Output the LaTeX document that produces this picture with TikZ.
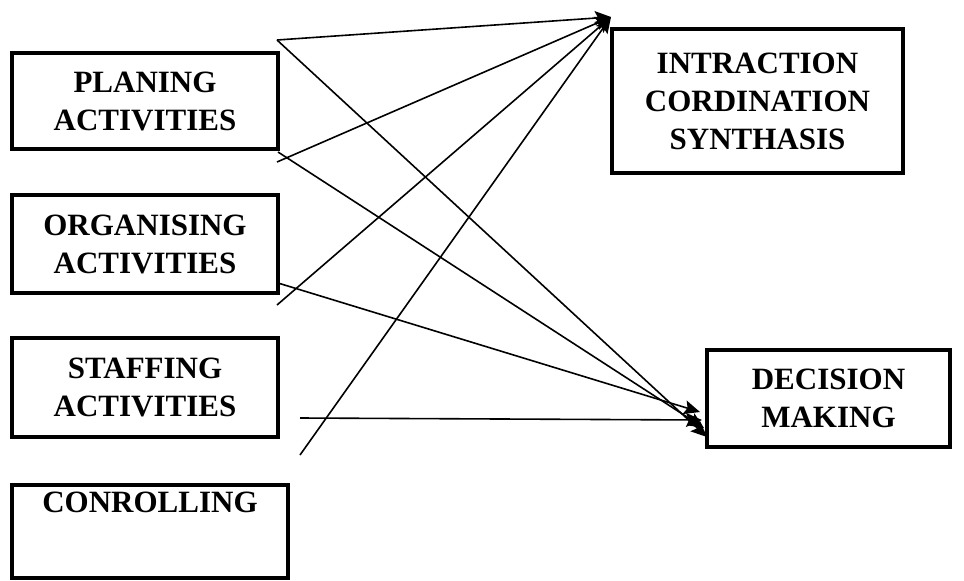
\documentclass[tikz,border=0pt]{standalone}
\usepackage{fontspec}
\setmainfont{Liberation Serif}
\usetikzlibrary{arrows.meta,calc}
\begin{document}
\begin{tikzpicture}[x=1pt,y=-1pt,
  box/.style={draw,line width=3.5pt,align=center,inner sep=0pt,
    font=\bfseries\fontsize{31}{38}\selectfont},
  link/.style={line width=1.6pt,-{Stealth[length=16pt,width=14pt,inset=3pt]}}]
\useasboundingbox (0,0) rectangle (964,581);

% left column of activity boxes
\node[box,minimum width=266pt,minimum height=96pt] (plan) at (145,101) {PLANING\\ACTIVITIES};
\node[box,minimum width=266pt,minimum height=98pt] (org) at (145,244) {ORGANISING\\ACTIVITIES};
\node[box,minimum width=266pt,minimum height=99pt] (staff) at (145,387.5) {STAFFING\\ACTIVITIES};
\node[box,minimum width=276pt,minimum height=93pt] (ctrl) at (150,531.5) {CONROLLING\\[20pt]\mbox{}};

% right column
\node[box,minimum width=291pt,minimum height=144pt] (ics) at (757.5,101) {INTRACTION\\CORDINATION\\SYNTHASIS};
\node[box,minimum width=243pt,minimum height=97pt] (dm) at (828.5,398.5) {DECISION\\MAKING};

% start points of the connectors
\coordinate (s1) at (277,40);
\coordinate (s2) at (278,152);
\coordinate (s3) at (277,162);
\coordinate (s4) at (278,283);
\coordinate (s5) at (277,305);
\coordinate (s6) at (300,418);
\coordinate (s7) at (300,455);

% arrow tips
\coordinate (t) at (611,17);
\coordinate (d1) at (700,412);
\coordinate (d2) at (702,420);
\coordinate (d3) at (704,428);
\coordinate (d4) at (707,437);

\draw[link] (s1) -- (t);
\draw[link] (s3) -- (t);
\draw[link] (s5) -- (t);
\draw[link] (s7) -- (t);

\draw[link] (s1) -- (d4);
\draw[link] (s2) -- (d3);
\draw[link] (s4) -- (d1);
\draw[link] (s6) -- (d2);
\end{tikzpicture}
\end{document}
